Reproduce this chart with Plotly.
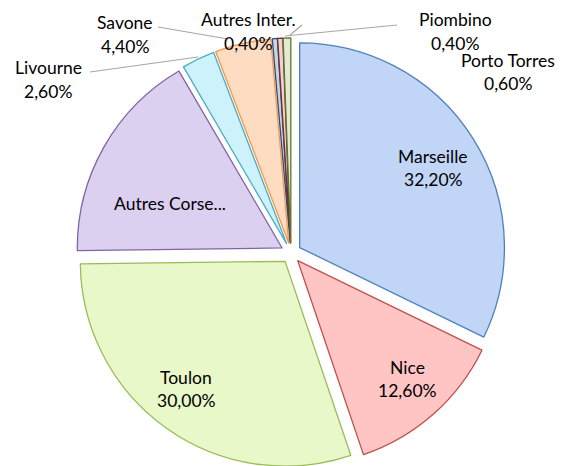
import plotly.graph_objects as go

# Data
ports = ["Marseille", "Nice", "Toulon", "Autres Corse...", "Livourne", "Savone",
         "Autres Inter.", "Piombino", "Porto Torres"]
shares = [32.2, 12.6, 30.0, 16.8, 2.6, 4.4, 0.4, 0.4, 0.6]
pct_labels = ["32,20%", "12,60%", "30,00%", "", "2,60%", "4,40%", "0,40%", "0,40%", "0,60%"]

fills = ["#c1d5f7", "#ffc5c4", "#e8f8c9", "#dcd0f0", "#cdf2fc", "#fddcc2",
         "#c9d3e3", "#ecd3d2", "#e3ebd2"]
borders = ["#4f81bd", "#c0504d", "#9bbb59", "#8064a2", "#4bacc6", "#f79646",
           "#2c4d75", "#772c2a", "#5f7530"]

W, H = 576, 466
OFF = 8  # page body margin offset


def px(x, y):
    """screen pixel -> paper fraction"""
    return (x - OFF) / W, 1 - (y - OFF) / H


# pie geometry (screen pixels)
cx, cy, half = 291, 253, 215
x0d, yt = px(cx - half, cy - half)
x1d, yb = px(cx + half, cy + half)

FONT = "Lato"
FS = 17.5

fig = go.Figure(go.Pie(
    labels=ports,
    values=shares,
    textinfo="none",
    sort=False,
    direction="clockwise",
    rotation=0,
    pull=[0.05] * len(ports),
    marker=dict(colors=fills, line=dict(color=borders, width=1.3)),
    hoverinfo="label+percent",
    showlegend=False,
    domain=dict(x=[x0d, x1d], y=[yb, yt]),
))

# label positions (screen pixels, centre of first line)
label_pos = {
    "Marseille": (433, 156),
    "Nice": (407, 367),
    "Toulon": (186, 377),
    "Autres Corse...": (170, 203),
    "Livourne": (48, 68),
    "Savone": (125, 23),
    "Autres Inter.": (248, 20),
    "Piombino": (455, 20),
    "Porto Torres": (508, 60),
}
LINE = 23.5

annotations = []
for p, l in zip(ports, pct_labels):
    sx, sy = label_pos[p]
    lines = [p] + ([l] if l else [])
    for i, t in enumerate(lines):
        x, y = px(sx, sy + i * LINE)
        annotations.append(dict(
            x=x, y=y, xref="paper", yref="paper", text=t,
            showarrow=False, font=dict(family=FONT, size=FS, color="#000000"),
            xanchor="center", yanchor="middle",
        ))

leaders = [
    ((158, 27), (228, 39)),   # Savone
    ((90, 72), (198, 57)),    # Livourne
    ((290, 35), (302, 25)),   # Autres Inter.
    ((285, 36), (397, 25)),   # Piombino
]
shapes = []
for (a, b), (c, d) in leaders:
    a0, b0 = px(a, b)
    a1, b1 = px(c, d)
    shapes.append(dict(type="line", xref="paper", yref="paper", x0=a0, y0=b0,
                       x1=a1, y1=b1, line=dict(color="#a6a6a6", width=1.2)))

fig.update_layout(
    width=W, height=H,
    margin=dict(l=0, r=0, t=0, b=0),
    paper_bgcolor="white",
    plot_bgcolor="white",
    annotations=annotations,
    shapes=shapes,
)

fig.write_html("out.html")
